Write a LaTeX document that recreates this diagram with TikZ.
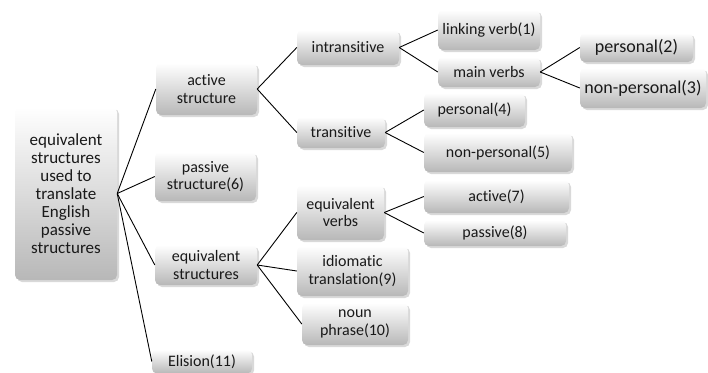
\documentclass[tikz,border=0pt]{standalone}
\usepackage{fontspec}
\setmainfont[Ligatures=NoCommon]{Carlito}
\usetikzlibrary{shadows}
\begin{document}
\begin{tikzpicture}[x=1pt,y=-1pt,
  box/.style={rounded corners=5pt, top color=white, bottom color=black!28,
    draw=none, inner sep=0pt, align=center, text=black!90,
    font=\fontsize{16}{17.5}\selectfont,
    drop shadow={opacity=0.3, shadow xshift=2pt, shadow yshift=-2pt}},
  bigbox/.style={box, font=\fontsize{18}{20}\selectfont},
  rootbox/.style={box, font=\fontsize{17}{18}\selectfont},
  link/.style={draw=black, line width=0.9pt}]
\useasboundingbox (0,0) rectangle (708,372);
\node[rootbox, minimum width=102pt, minimum height=173pt] (root) at (66,193.5)
  {equivalent\\structures\\used to\\translate\\English\\passive\\structures};
\node[box, minimum width=101pt, minimum height=52pt] (active) at (206.5,89) {active\\structure};
\node[box, minimum width=101pt, minimum height=49pt] (passive) at (205.5,176.5) {passive\\structure(6)};
\node[box, minimum width=102pt, minimum height=40pt] (eqstruct) at (206,265) {equivalent\\structures};
\node[box, minimum width=100pt, minimum height=24pt] (elision) at (202,361.5) {Elision(11)};
\node[box, minimum width=102pt, minimum height=35pt] (intrans) at (348,47.5) {intransitive};
\node[box, minimum width=88pt, minimum height=31pt] (trans) at (341,132.5) {transitive};
\node[box, minimum width=87pt, minimum height=55pt] (eqverbs) at (340.5,212.5) {equivalent\\verbs};
\node[box, minimum width=111pt, minimum height=50pt] (idiom) at (352.5,271) {idiomatic\\translation(9)};
\node[box, minimum width=106pt, minimum height=42pt] (noun) at (355,324) {noun\\phrase(10)};
\node[box, minimum width=102pt, minimum height=40pt] (linking) at (489,30) {linking verb(1)};
\node[box, minimum width=102pt, minimum height=30pt] (main) at (489,72) {main verbs};
\node[box, minimum width=101pt, minimum height=34pt] (pers4) at (474.5,110) {personal(4)};
\node[box, minimum width=148pt, minimum height=39pt] (npers5) at (498,152.5) {non-personal(5)};
\node[box, minimum width=145pt, minimum height=33pt] (act7) at (496.5,196.5) {active(7)};
\node[box, minimum width=142pt, minimum height=26pt] (pass8) at (495,233) {passive(8)};
\node[bigbox, minimum width=113pt, minimum height=29pt] (pers2) at (636.5,47.5) {personal(2)};
\node[bigbox, minimum width=126pt, minimum height=40pt] (npers3) at (643,88) {non-personal(3)};
\draw[link] (root.east) -- (active.west);
\draw[link] (root.east) -- (passive.west);
\draw[link] (root.east) -- (eqstruct.west);
\draw[link] (root.east) -- (elision.west);
\draw[link] (active.east) -- (intrans.west);
\draw[link] (active.east) -- (trans.west);
\draw[link] (intrans.east) -- (linking.west);
\draw[link] (intrans.east) -- (main.west);
\draw[link] (main.east) -- (pers2.west);
\draw[link] (main.east) -- (npers3.west);
\draw[link] (trans.east) -- (pers4.west);
\draw[link] (trans.east) -- (npers5.west);
\draw[link] (eqstruct.east) -- (eqverbs.west);
\draw[link] (eqstruct.east) -- (idiom.west);
\draw[link] (eqstruct.east) -- (noun.west);
\draw[link] (eqverbs.east) -- (act7.west);
\draw[link] (eqverbs.east) -- (pass8.west);
\end{tikzpicture}
\end{document}
